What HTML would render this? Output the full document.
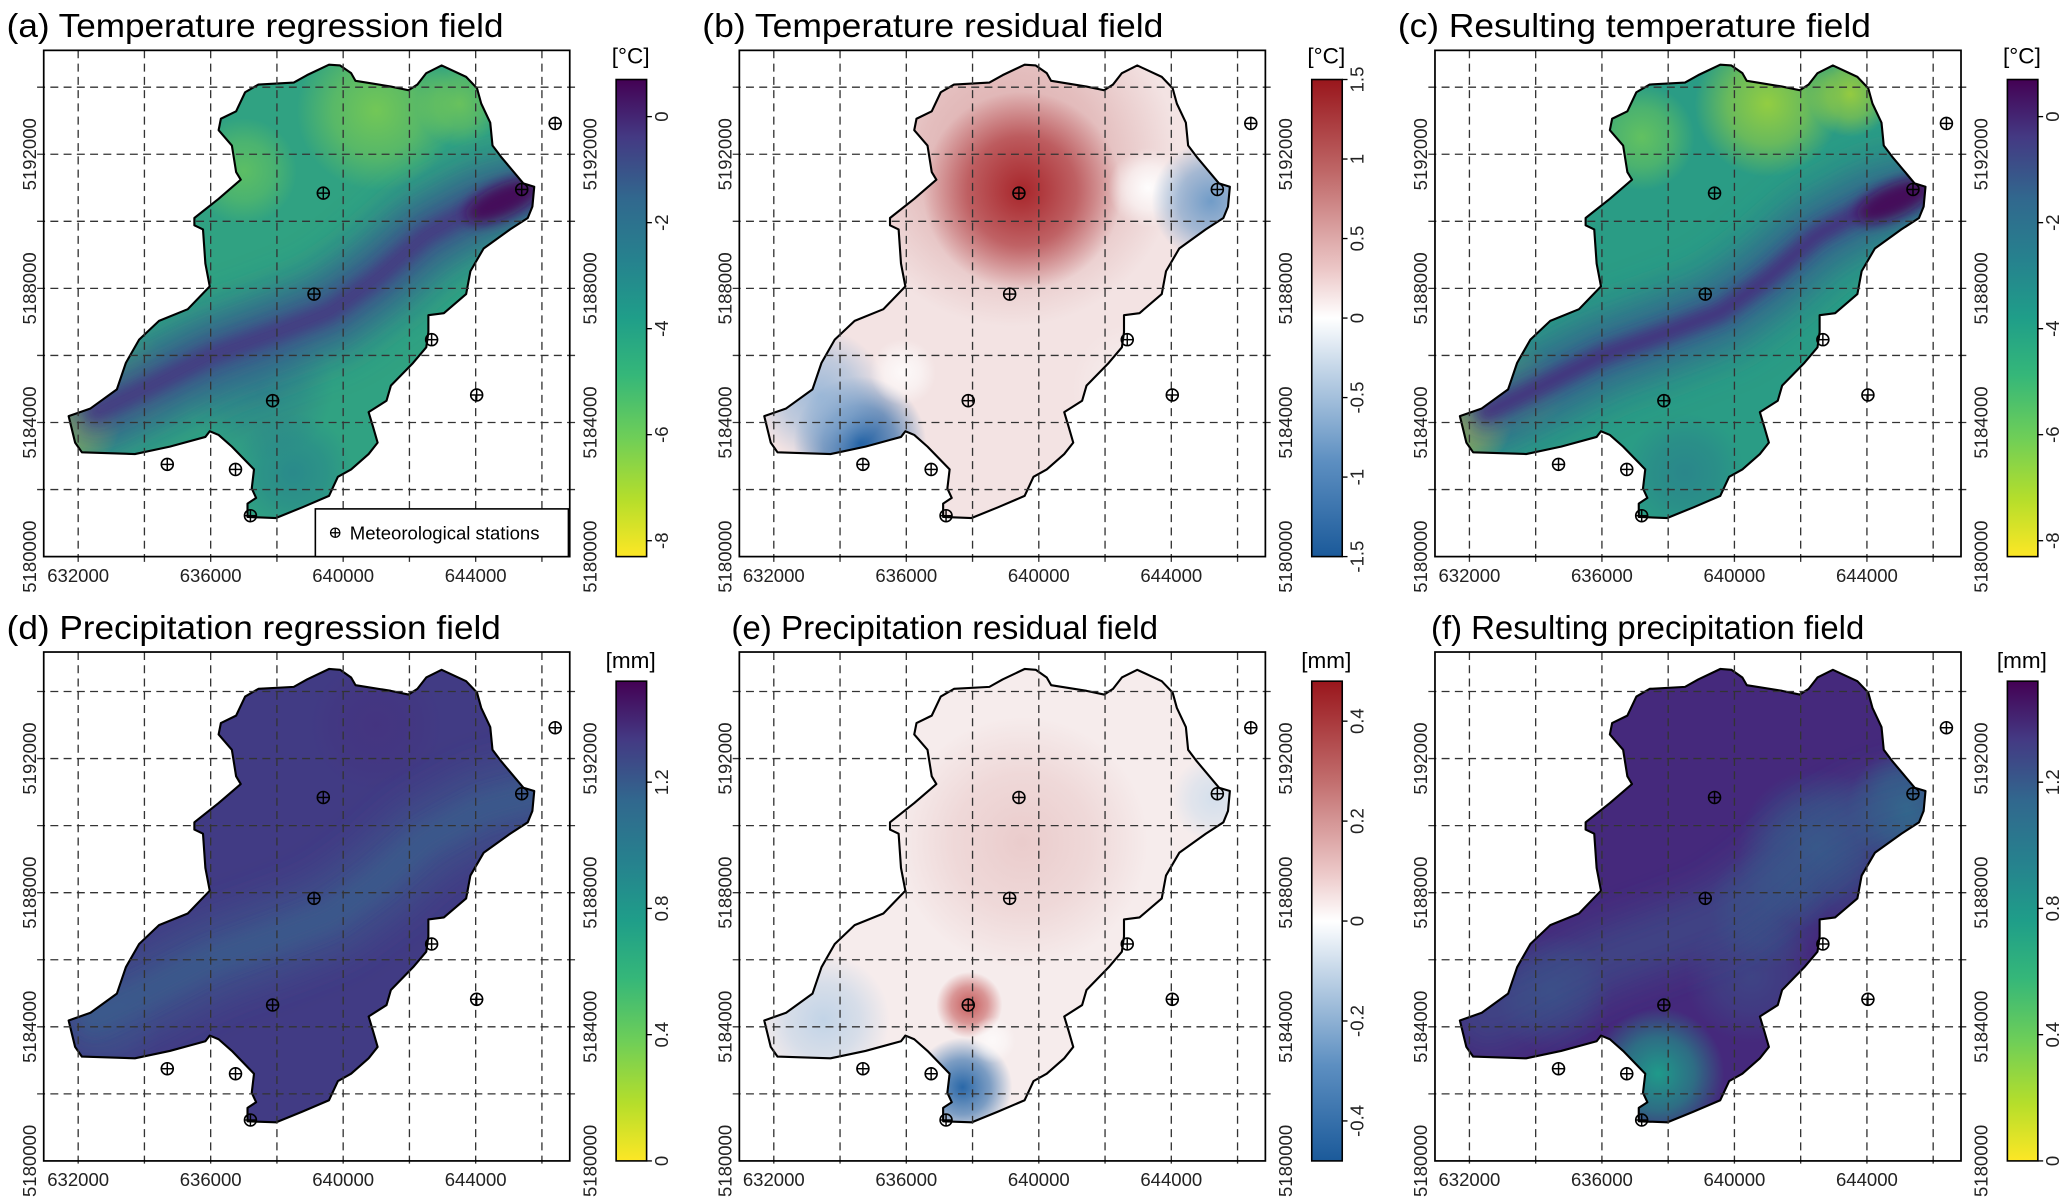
<!DOCTYPE html>
<html><head><meta charset="utf-8"><style>
html,body{margin:0;padding:0;background:#fff;}
svg{display:block;font-family:"Liberation Sans",sans-serif;}
</style></head><body>
<svg id="fig" xmlns="http://www.w3.org/2000/svg" width="2067" height="1202" viewBox="0 0 1560 907" preserveAspectRatio="none">
<defs>
<filter id="blur" x="-50%" y="-50%" width="200%" height="200%"><feGaussianBlur stdDeviation="12"/></filter>
<filter id="blur2" x="-50%" y="-50%" width="200%" height="200%"><feGaussianBlur stdDeviation="5"/></filter>
<linearGradient id="viridis" x1="0" y1="1" x2="0" y2="0">
<stop offset="0" stop-color="#fde725"/><stop offset="0.12" stop-color="#b5de2b"/><stop offset="0.25" stop-color="#6ece58"/><stop offset="0.38" stop-color="#35b779"/><stop offset="0.5" stop-color="#1f9e89"/><stop offset="0.62" stop-color="#26828e"/><stop offset="0.75" stop-color="#31688e"/><stop offset="0.88" stop-color="#443983"/><stop offset="1" stop-color="#440154"/>
</linearGradient>
<linearGradient id="rdbu" x1="0" y1="1" x2="0" y2="0">
<stop offset="0" stop-color="#1b5a9a"/><stop offset="0.2" stop-color="#5d8fc1"/><stop offset="0.4" stop-color="#c7d8e9"/><stop offset="0.5" stop-color="#ffffff"/><stop offset="0.6" stop-color="#ecc8c8"/><stop offset="0.8" stop-color="#c06a6a"/><stop offset="1" stop-color="#99161c"/>
</linearGradient>
</defs>
</svg>
<script>
// ---- data ----
const xTicks = [632000, 636000, 640000, 644000];
const yTicks = [5180000, 5184000, 5188000, 5192000];
const gridE = [632, 634, 636, 638, 640, 642, 644, 646];
const gridN = [2, 4, 6, 8, 10, 12, 14];
const outlineE = [631.71,631.91,632.11,633.71,634.77,635.84,635.97,636.24,636.64,637.31,637.24,637.37,637.11,637.11,637.97,638.77,639.57,639.84,640.24,640.77,641.04,640.91,640.77,641.31,641.44,642.11,642.51,642.57,642.57,643.04,643.71,643.84,644.24,645.04,645.57,645.71,645.77,645.44,644.77,644.51,644.44,644.17,644.04,643.71,642.97,642.51,642.24,641.97,641.44,640.37,640.24,639.91,639.57,638.91,638.51,637.44,637.04,636.77,636.31,636.24,636.64,636.77,636.91,636.24,635.51,635.51,635.77,635.84,635.97,635.31,634.44,633.84,633.44,633.17,632.37];
const outlineN = [4.19,3.40,3.11,3.06,3.28,3.57,3.74,3.63,3.28,2.60,2.03,1.75,1.58,1.18,1.15,1.47,1.81,2.38,2.60,3.06,3.40,3.85,4.31,4.65,5.10,5.78,6.24,6.69,7.20,7.26,7.83,8.51,9.19,9.76,10.10,10.44,11.03,11.13,11.92,12.26,12.94,13.51,13.97,14.31,14.65,14.42,14.08,13.91,14.02,14.19,14.42,14.65,14.67,14.36,14.14,14.08,13.85,13.28,13.06,12.72,12.26,11.47,11.24,10.67,10.10,9.88,9.76,8.74,8.06,7.38,7.03,6.47,5.78,4.99,4.42];
const stationE = [639.40,639.12,645.39,642.67,637.87,644.03,634.69,636.75,637.20,646.40];
const stationN = [10.84,7.83,10.95,6.47,4.65,4.82,2.75,2.60,1.22,12.92];
const valleyE = [645.7,644.2,642.5,641.0,639.6,638.0,636.0,634.0,632.5];
const valleyN = [10.9,10.5,9.6,8.3,7.3,6.7,6.0,5.0,4.3];

const panels = [
 {id:'a',col:0,row:0,title:'(a) Temperature regression field',tx:5,tl:375,unit:'[°C]',grad:'viridis',cbMin:-8.3,cbMax:0.7,cbTicks:[0,-2,-4,-6,-8],cbLabels:['0','-2','-4','-6','-8'],
  base:'#30a282',blobs:[[641,13.3,2.4,'#8fd744',0.7],[637,11.5,1.6,'#7ad151',0.6],[632,4,1.3,'#d9e231',0.9],[643.5,13.5,1.3,'#8fd744',0.6],[633.5,5.2,1.5,'#5ec962',0.5],[638.5,2.5,1.8,'#277f8e',0.7],[637.5,5,2.2,'#2e6e8e',0.5]],valley:[['#31688e',70,0.55],['#3c4f8a',36,0.85],['#453781',14,0.9]],nePurple:true},
 {id:'b',col:1,row:0,title:'(b) Temperature residual field',tx:530,tl:348,unit:'[°C]',grad:'rdbu',cbMin:-1.5,cbMax:1.5,cbTicks:[1.5,1,0.5,0,-0.5,-1,-1.5],cbLabels:['1.5','1','0.5','0','-0.5','-1','-1.5'],
  base:'#f3e3e3',blobs:[[639.2,11.8,5.0,'#d59a9a',0.85],[639.5,10.9,3.0,'#a8262b',1],[643.3,11,1.2,'#ffffff',0.95],[645.2,10.6,1.8,'#6a98c6',0.95],[634.6,3.4,2.0,'#1d5ea2',1],[633.4,4.8,2.0,'#8fb2d6',0.85],[635.9,5.5,1.0,'#ffffff',0.8],[643,5,2,'#f8f3f3',0.7]],valley:null},
 {id:'c',col:2,row:0,title:'(c) Resulting temperature field',tx:1055,tl:357,unit:'[°C]',grad:'viridis',cbMin:-8.3,cbMax:0.7,cbTicks:[0,-2,-4,-6,-8],cbLabels:['0','-2','-4','-6','-8'],
  base:'#2a9c85',blobs:[[641,13.5,2.2,'#b5de2b',0.75],[637.2,12.5,1.6,'#7ad151',0.7],[632,4,1.3,'#fde725',0.9],[643.5,13.8,1.3,'#c2df23',0.7],[633.5,5,1.4,'#6ece58',0.6],[638.5,2.5,1.8,'#2a788e',0.6]],valley:[['#31688e',70,0.5],['#355c8c',36,0.85],['#472f7d',14,0.9]],nePurple:true},
 {id:'d',col:0,row:1,title:'(d) Precipitation regression field',tx:5,tl:373,unit:'[mm]',grad:'viridis',cbMin:0,cbMax:1.52,cbTicks:[1.2,0.8,0.4,0],cbLabels:['1.2','0.8','0.4','0'],
  base:'#413b84',blobs:[[641,13,2,'#46307e',0.6],[633,4,1.5,'#3d4d8a',0.5]],valley:[['#3a5a8c',60,0.6],['#36608d',24,0.5]]},
 {id:'e',col:1,row:1,title:'(e) Precipitation residual field',tx:552,tl:322,unit:'[mm]',grad:'rdbu',cbMin:-0.48,cbMax:0.48,cbTicks:[0.4,0.2,0,-0.2,-0.4],cbLabels:['0.4','0.2','0','-0.2','-0.4'],
  base:'#f6ecec',blobs:[[639.5,9.5,3.8,'#e8c6c6',0.85],[637.9,4.65,1.0,'#c45555',0.95],[637.7,2.2,1.5,'#2a68a8',1],[633.5,4.2,2.0,'#bcd1e6',0.9],[645.3,10.8,1.3,'#d0deec',0.9],[638.6,3.6,0.7,'#ffffff',0.7]],valley:null},
 {id:'f',col:2,row:1,title:'(f) Resulting precipitation field',tx:1080,tl:327,unit:'[mm]',grad:'viridis',cbMin:0,cbMax:1.52,cbTicks:[1.2,0.8,0.4,0],cbLabels:['1.2','0.8','0.4','0'],
  base:'#45297c',blobs:[[637.7,2.6,2.0,'#1f9a8a',1],[645.2,10.5,1.8,'#2a7b8e',0.95],[642.5,9.3,2.4,'#2f6a8d',0.75],[634.5,5,1.8,'#355f8d',0.55],[640.5,5.5,2,'#3a568b',0.6],[641,7.5,1.8,'#2f6a8d',0.5]],valley:[['#3b558b',50,0.55]]}
];

const NS = 'http://www.w3.org/2000/svg';
const svg = document.getElementById('fig');
const defs = svg.querySelector('defs');
function mk(tag, attrs, parent){const e=document.createElementNS(NS,tag);for(const k in attrs)e.setAttribute(k,attrs[k]);(parent||svg).appendChild(e);return e;}

panels.forEach((p,pi)=>{
  const left = 33 + p.col*525, right = left + 397;
  const top = p.row ? 492 : 38, bottom = p.row ? 876 : 420;
  const xs = e => left + 26 + (e-632)*25;
  const ys = n => bottom - n*25.3;
  const g = mk('g',{});
  
  

  const t = mk('text',{x:p.tx,y:p.row?482:28,'font-size':25,fill:'#000',textLength:p.tl,lengthAdjust:'spacingAndGlyphs'},g);
  t.textContent = p.title;
  
  

  const cp = mk('clipPath',{id:'clip'+p.id},defs);
  const pts = outlineE.map((e,i)=>xs(e).toFixed(1)+','+ys(outlineN[i]).toFixed(1)).join(' ');
  mk('polygon',{points:pts},cp);

  const field = mk('g',{'clip-path':'url(#clip'+p.id+')'},g);
  
  
  mk('rect',{x:left,y:top,width:397,height:bottom-top,fill:p.base},field);
  p.blobs.forEach((b,bi)=>{
    const gid='rg'+p.id+bi;
    const rg=mk('radialGradient',{id:gid},defs);
    mk('stop',{offset:0,'stop-color':b[3],'stop-opacity':b[4]},rg);
    mk('stop',{offset:0.55,'stop-color':b[3],'stop-opacity':b[4]*0.6},rg);
    mk('stop',{offset:1,'stop-color':b[3],'stop-opacity':0},rg);
    const c=mk('circle',{cx:xs(b[0]),cy:ys(b[1]),r:b[2]*25,fill:'url(#'+gid+')'},field);
    
    
  });
  if(p.valley){
    const vp = valleyE.map((e,i)=>xs(e).toFixed(1)+','+ys(valleyN[i]).toFixed(1)).join(' ');
    p.valley.forEach((v,vi)=>{
      const pl=mk('polyline',{points:vp,fill:'none',stroke:v[0],'stroke-width':v[1],'stroke-opacity':v[2],'stroke-linecap':'round','stroke-linejoin':'round',filter:vi===p.valley.length-1&&vi>0?'url(#blur2)':'url(#blur)'},field);
      
      
    });
    if(p.nePurple){
      const c=mk('ellipse',{cx:xs(644.8),cy:ys(10.6),rx:30,ry:12,fill:'#440d5a',filter:'url(#blur2)',transform:'rotate(-25 '+xs(644.8)+' '+ys(10.6)+')'},field);
      
      
    }
  }
  const ol = mk('polygon',{points:pts,fill:'none',stroke:'#000','stroke-width':1.6,'stroke-linejoin':'round'},g);
  
  

  gridE.forEach(e=>{
    const l=mk('line',{x1:xs(e),x2:xs(e),y1:top,y2:bottom+5,stroke:'#333','stroke-width':1,'stroke-dasharray':'6,4'},g);
    
    
  });
  gridN.forEach(n=>{
    const l=mk('line',{x1:left-5,x2:right+5,y1:ys(n),y2:ys(n),stroke:'#333','stroke-width':1,'stroke-dasharray':'6,4'},g);
    
    
  });
  const box=mk('rect',{x:left,y:top,width:397,height:bottom-top,fill:'none',stroke:'#000','stroke-width':1.3},g);
  
  

  xTicks.forEach(v=>{
    const tx=mk('text',{x:xs(v/1000),y:bottom+19,'font-size':14,'text-anchor':'middle',fill:'#222'},g);
    tx.textContent=v;
    
    
  });
  yTicks.forEach(v=>{
    const n=(v-5180000)/1000;
    [left-6,right+20].forEach(bx=>{
      const ty=mk('text',{x:0,y:0,'font-size':14,'text-anchor':'middle',fill:'#222',transform:'translate('+bx+','+ys(n)+') rotate(-90)'},g);
      ty.textContent=v;
      
      
    });
  });

  stationE.forEach((e,i)=>{
    const sg=mk('g',{},g);
    
    
    const cx=xs(e), cy=ys(stationN[i]);
    mk('circle',{cx:cx,cy:cy,r:4.5,fill:'none',stroke:'#000','stroke-width':1.2},sg);
    mk('line',{x1:cx-4.5,x2:cx+4.5,y1:cy,y2:cy,stroke:'#000','stroke-width':1.1},sg);
    mk('line',{x1:cx,x2:cx,y1:cy-4.5,y2:cy+4.5,stroke:'#000','stroke-width':1.1},sg);
  });

  if(pi===0){
    const lg=mk('g',{},g);
    
    
    mk('rect',{x:238,y:384,width:191,height:36,fill:'#fff',stroke:'#000','stroke-width':1.2},lg);
    mk('circle',{cx:253,cy:402,r:3.5,fill:'none',stroke:'#000','stroke-width':1},lg);
    mk('line',{x1:249.5,x2:256.5,y1:402,y2:402,stroke:'#000','stroke-width':1},lg);
    mk('line',{x1:253,x2:253,y1:398.5,y2:405.5,stroke:'#000','stroke-width':1},lg);
    const lt=mk('text',{x:264,y:407,'font-size':14,fill:'#000'},lg);
    lt.textContent='Meteorological stations';
    
    
  }

  const cbx = 465 + p.col*525, cbt = p.row?514:60, cbb = bottom;
  const cb=mk('g',{},g);
  
  
  mk('rect',{x:cbx,y:cbt,width:23,height:cbb-cbt,fill:'url(#'+p.grad+')',stroke:'#000','stroke-width':1.2},cb);
  const cy = v => cbb - (v-p.cbMin)/(p.cbMax-p.cbMin)*(cbb-cbt);
  p.cbTicks.forEach((v,i)=>{
    mk('line',{x1:cbx+23,x2:cbx+27,y1:cy(v),y2:cy(v),stroke:'#000','stroke-width':1},cb);
    const lt=mk('text',{x:0,y:0,'font-size':14,'text-anchor':'middle',fill:'#222',transform:'translate('+(cbx+39)+','+cy(v)+') rotate(-90)'},cb);
    lt.textContent=p.cbLabels[i];
    
    
  });
  const ut=mk('text',{x:cbx+11,y:cbt-(p.row?10:12),'font-size':17,'text-anchor':'middle',fill:'#000'},cb);
  ut.textContent=p.unit;
  
  
});
</script>
</body></html>
